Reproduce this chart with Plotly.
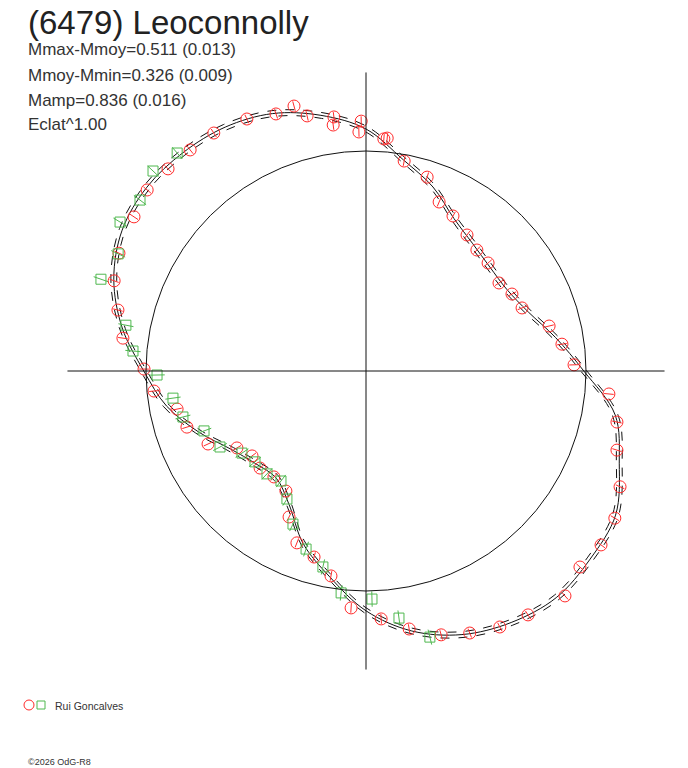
import numpy as np
import plotly.graph_objects as go

# fitted light curve (phase angle in deg, radius relative to the mean circle)
curve_phase = [-180, -170, -160, -150, -140, -130, -120, -110, -100, -90,
               -80, -70, -60, -50, -40, -30, -20, -10, 0, 10,
               20, 30, 40, 50, 60, 70, 80, 90, 100, 110,
               120, 130, 140, 150, 160, 170, 180]
curve_r = [1.01, 0.92, 0.81, 0.71, 0.655, 0.635, 0.70, 0.835, 0.95, 1.09,
           1.20, 1.275, 1.32, 1.345, 1.33, 1.31, 1.225, 1.15, 0.99, 0.875,
           0.785, 0.74, 0.735, 0.755, 0.80, 0.89, 0.975, 1.10, 1.18, 1.245,
           1.28, 1.295, 1.30, 1.28, 1.22, 1.125, 1.01]
curve_err = 0.014

# observations, red circles
red_phase = [128.5, 134.4, 140.4, 146.4, 154.5, 160.3, 166.2, 172.3, 179.5, 122.6,
             115.3, 109.3, 105.2, 103.0, 97.2, 97.6, 91.1, 91.7, 85.6, 84.8,
             79.7, 72.5, 66.6, 60.7, 53.4, 47.5, 41.5, 33.5, 27.8, 22.0,
             13.8, 7.8, 1.7, -5.4, -11.5, -17.5, -24.5, -30.6, -36.5, -42.5,
             -48.5, -56.4, -62.4, -68.4, -74.1, -80.5, -86.5, -93.6, -99.7, -105.6,
             -111.9, -117.8, -123.7, -131.0, -137.5, -143.3, -149.2, -155.2, -162.6, -168.6,
             -174.6]
red_r = [1.284, 1.286, 1.291, 1.266, 1.244, 1.216, 1.161, 1.115, 1.009, 1.284,
         1.267, 1.238, 1.248, 1.190, 1.164, 1.128, 1.136, 1.087, 1.058, 1.063,
         0.970, 0.924, 0.837, 0.808, 0.770, 0.746, 0.741, 0.725, 0.750, 0.765,
         0.857, 0.899, 0.946, 1.109, 1.164, 1.196, 1.269, 1.314, 1.329, 1.319,
         1.365, 1.331, 1.313, 1.281, 1.247, 1.189, 1.129, 1.079, 0.945, 0.878,
         0.842, 0.750, 0.656, 0.638, 0.653, 0.646, 0.683, 0.791, 0.853, 0.876,
         0.968]
red_err = 0.022

# observations, green squares
green_phase = [130.9, 136.8, 142.9, 148.8, 154.7, 160.9, 169.2, 175.1, -178.9, -172.0,
               -165.9, -159.7, -152.5, -146.5, -140.7, -133.9, -127.7, -121.7, -115.5, -108.6,
               -102.4, -96.4, -88.5, -82.4, -76.5]
green_r = [1.311, 1.328, 1.288, 1.307, 1.246, 1.275, 1.111, 1.063, 0.950, 0.886,
           0.858, 0.785, 0.748, 0.676, 0.652, 0.649, 0.632, 0.684, 0.771, 0.854,
           0.912, 1.015, 1.037, 1.133, 1.244]
green_err = 0.035

title = "(6479) Leoconnolly"
info_lines = ["Mmax-Mmoy=0.511 (0.013)", "Mmoy-Mmin=0.326 (0.009)",
              "Mamp=0.836 (0.016)", "Eclat^1.00"]
observer = "Rui Goncalves"
credit = "\u00a92026 OdG-R8"

axis_len = 1.357

W, H = 688, 768
CX, CY, SCALE = 366, 371, 220.0


def to_xy(phase, r):
    a = np.radians(np.array(phase, dtype=float))
    r = np.array(r, dtype=float)
    return r * np.cos(a), r * np.sin(a)


def err_segments(phase, r, e):
    xs, ys = [], []
    for p, rr in zip(phase, r):
        x0, y0 = to_xy([p], [rr - e])
        x1, y1 = to_xy([p], [rr + e])
        xs += [x0[0], x1[0], None]
        ys += [y0[0], y1[0], None]
    return xs, ys


fig = go.Figure()

# envelope and mean curve
for k, dash in [(-1, "dash"), (1, "dash"), (0, "solid")]:
    x, y = to_xy(curve_phase, np.array(curve_r) + k * curve_err)
    fig.add_trace(go.Scatter(x=x, y=y, mode="lines",
                             line=dict(color="#111111", width=1, dash=dash, shape="spline", smoothing=1.0),
                             hoverinfo="skip", showlegend=False))

# error ticks
ex, ey = err_segments(red_phase, red_r, red_err)
fig.add_trace(go.Scatter(x=ex, y=ey, mode="lines", line=dict(color="#ff2a2a", width=1),
                         hoverinfo="skip", showlegend=False))
ex, ey = err_segments(green_phase, green_r, green_err)
fig.add_trace(go.Scatter(x=ex, y=ey, mode="lines", line=dict(color="#4fb84f", width=1),
                         hoverinfo="skip", showlegend=False))

x, y = to_xy(red_phase, red_r)
fig.add_trace(go.Scatter(x=x, y=y, mode="markers",
                         marker=dict(symbol="circle-open", size=12, color="#ff2a2a", line=dict(width=1)),
                         showlegend=False))
x, y = to_xy(green_phase, green_r)
fig.add_trace(go.Scatter(x=x, y=y, mode="markers",
                         marker=dict(symbol="square-open", size=10, color="#4fb84f", line=dict(width=1)),
                         showlegend=False))

shapes = [
    dict(type="circle", xref="x", yref="y", x0=-1, y0=-1, x1=1, y1=1,
         line=dict(color="#111111", width=1)),
    dict(type="line", xref="x", yref="y", x0=-axis_len, x1=axis_len, y0=0, y1=0,
         line=dict(color="#111111", width=1)),
    dict(type="line", xref="x", yref="y", x0=0, x1=0, y0=-axis_len, y1=axis_len,
         line=dict(color="#111111", width=1)),
    # legend symbols
    dict(type="circle", xref="paper", yref="paper", x0=24 / W, x1=34 / W,
         y0=1 - 710 / H, y1=1 - 700 / H, line=dict(color="#ff2a2a", width=1)),
    dict(type="rect", xref="paper", yref="paper", x0=37 / W, x1=45 / W,
         y0=1 - 709 / H, y1=1 - 701 / H, line=dict(color="#4fb84f", width=1)),
]

ann = [dict(text=title, x=26 / W, y=1 - 22 / H, font=dict(size=33, color="#222222"))]
for i, t in enumerate(info_lines):
    ann.append(dict(text=t, x=26 / W, y=1 - (50 + 25 * i) / H, font=dict(size=17, color="#333333")))
ann.append(dict(text=observer, x=53 / W, y=1 - 706 / H, font=dict(size=10.5, color="#333333")))
ann.append(dict(text=credit, x=26 / W, y=1 - 762 / H, font=dict(size=9, color="#333333")))
for a in ann:
    a.update(xref="paper", yref="paper", xanchor="left", yanchor="middle", showarrow=False)

fig.update_layout(
    width=W, height=H,
    margin=dict(l=0, r=0, t=0, b=0),
    paper_bgcolor="white", plot_bgcolor="white",
    font=dict(family="Liberation Sans, Arial, sans-serif"),
    xaxis=dict(range=[-CX / SCALE, (W - CX) / SCALE], visible=False, fixedrange=True),
    yaxis=dict(range=[-(H - CY) / SCALE, CY / SCALE], visible=False, fixedrange=True),
    shapes=shapes, annotations=ann, showlegend=False,
)

# drop the browser's default body margin so the figure fills the window
fig.write_html("out.html", config={"displayModeBar": False},
               post_script="document.body.style.margin='0';document.body.style.overflow='hidden';")
